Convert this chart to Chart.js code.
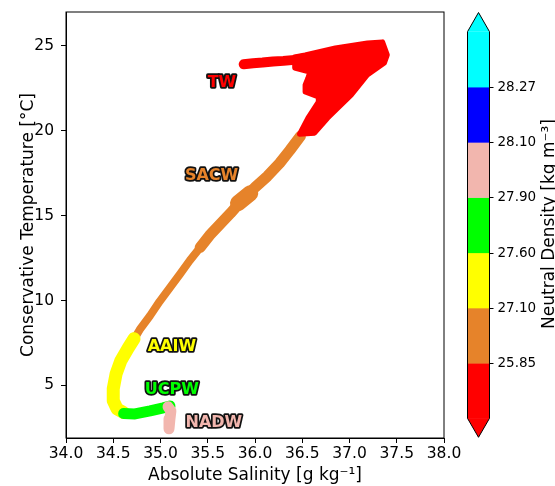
<!DOCTYPE html>
<html>
<head>
  <meta charset="UTF-8">
  <title>T-S diagram</title>
  <script src="https://cdn.jsdelivr.net/npm/chart.js"></script>
  <style>
    body { margin: 0; background: #fff; }
    canvas { display: block; }
  </style>
</head>
<body>
  <canvas id="chart" width="555" height="486"></canvas>

  <script>
    // water mass colours (same as colorbar classes)
    const cRed = '#ff0000';
    const cOrange = '#e6832a';
    const cYellow = '#ffff00';
    const cGreen = '#00ff00';
    const cPink = '#f2b6ae';
    const cBlue = '#0000ff';
    const cCyan = '#00ffff';

    // TW (red) - upper wedge outline and the low-salinity trail
    const twWedgeS = [36.42, 36.53, 36.85, 37.19, 37.35, 37.40, 37.37, 37.19, 37.02, 36.77, 36.63, 36.47, 36.56, 36.67, 36.67, 36.53, 36.53, 36.56, 36.58, 36.42];
    const twWedgeT = [24.35, 24.47, 24.88, 25.18, 25.24, 24.47, 24.00, 23.29, 22.11, 20.75, 19.86, 19.80, 20.76, 21.70, 21.99, 22.29, 22.70, 23.11, 23.46, 23.70];
    const twTrailS = [35.88, 35.98, 36.08, 36.19, 36.30, 36.42, 36.53];
    const twTrailT = [23.92, 23.98, 24.02, 24.08, 24.12, 24.18, 24.28];

    // SACW (orange)
    const sacwLowS = [34.72, 34.78, 34.89, 34.99, 35.10, 35.21, 35.31, 35.42];
    const sacwLowT = [7.72, 8.28, 9.11, 9.94, 10.76, 11.59, 12.36, 13.13];
    const sacwUpS = [35.42, 35.52, 35.63, 35.74, 35.87, 36.00, 36.13, 36.26, 36.37, 36.48];
    const sacwUpT = [13.13, 13.84, 14.49, 15.14, 15.96, 16.67, 17.32, 18.09, 18.86, 19.68];
    const sacwBulgeS = [35.82, 35.95];
    const sacwBulgeT = [15.73, 16.32];

    // AAIW (yellow)
    const aaiwS = [34.72, 34.66, 34.58, 34.53, 34.50, 34.50, 34.54, 34.61];
    const aaiwT = [7.75, 7.22, 6.45, 5.68, 4.80, 4.09, 3.62, 3.40];

    // UCPW (green)
    const ucpwS = [34.61, 34.73, 34.89, 35.03, 35.10];
    const ucpwT = [3.34, 3.32, 3.50, 3.68, 3.79];

    // NADW (pink)
    const nadwS = [35.08, 35.11, 35.10, 35.09];
    const nadwT = [3.74, 3.50, 3.03, 2.44];

    // water mass labels
    const labelNames = ['TW', 'SACW', 'AAIW', 'UCPW', 'NADW'];
    const labelS = [35.65, 35.54, 35.12, 35.12, 35.565];
    const labelT = [22.81, 17.32, 7.28, 4.74, 2.79];
    const labelColors = [cRed, cOrange, cYellow, cGreen, cPink];

    // axis ticks
    const salTicks = [34.0, 34.5, 35.0, 35.5, 36.0, 36.5, 37.0, 37.5, 38.0];
    const tempTicks = [5, 10, 15, 20, 25];

    // colorbar (bottom to top)
    const densityBounds = ['25.85', '27.10', '27.60', '27.90', '28.10', '28.27'];
    const colorbarColors = [cRed, cOrange, cYellow, cGreen, cPink, cBlue, cCyan];

    const pts = (S, T) => S.map((s, i) => ({ x: s, y: T[i] }));

    function band(S, T, color, width, order) {
      return {
        data: pts(S, T), showLine: true, pointRadius: 0,
        borderColor: color, borderWidth: width,
        borderCapStyle: 'round', borderJoinStyle: 'round',
        fill: false, order: order
      };
    }

    const datasets = [
      band(nadwS, nadwT, cPink, 11, 0),
      band(ucpwS, ucpwT, cGreen, 11, 1),
      band(aaiwS, aaiwT, cYellow, 13, 2),
      Object.assign(band(twWedgeS.concat([twWedgeS[0]]), twWedgeT.concat([twWedgeT[0]]), cRed, 5, 3),
        { fill: 'shape', backgroundColor: cRed }),
      band(twTrailS, twTrailT, cRed, 10, 3),
      band(sacwLowS, sacwLowT, cOrange, 8, 4),
      band(sacwUpS, sacwUpT, cOrange, 11, 4),
      band(sacwBulgeS, sacwBulgeT, cOrange, 16, 4)
    ];

    const font = '"DejaVu Sans", sans-serif';

    const extras = {
      id: 'extras',
      afterDatasetsDraw(chart) {
        const ctx = chart.ctx, a = chart.chartArea;
        const xs = chart.scales.x, ys = chart.scales.y;
        ctx.save();
        // frame
        ctx.strokeStyle = '#000';
        ctx.lineWidth = 1;
        ctx.strokeRect(a.left, a.top, a.right - a.left, a.bottom - a.top);
        // outlined labels
        ctx.font = 'bold 16px ' + font;
        ctx.textAlign = 'center';
        ctx.textBaseline = 'middle';
        ctx.lineJoin = 'round';
        labelNames.forEach((name, i) => {
          const px = xs.getPixelForValue(labelS[i]);
          const py = ys.getPixelForValue(labelT[i]);
          ctx.lineWidth = 3.5;
          ctx.strokeStyle = '#111';
          ctx.strokeText(name, px, py);
          ctx.fillStyle = labelColors[i];
          ctx.fillText(name, px, py);
        });
        ctx.restore();
      },
      afterDraw(chart) {
        // colorbar with extend triangles
        const ctx = chart.ctx;
        const left = 467.5, right = 489.5, mid = (left + right) / 2;
        const tipTop = 12.5, top = 31.7, bottom = 418.3, tipBot = 437.3;
        const n = colorbarColors.length;
        const h = (bottom - top) / n;
        ctx.save();
        colorbarColors.forEach((c, i) => {
          const y0 = bottom - (i + 1) * h;
          ctx.fillStyle = c;
          ctx.fillRect(left, y0, right - left, h + 0.5);
        });
        ctx.fillStyle = colorbarColors[0];
        ctx.beginPath();
        ctx.moveTo(left, bottom); ctx.lineTo(right, bottom); ctx.lineTo(mid, tipBot); ctx.closePath();
        ctx.fill();
        ctx.fillStyle = colorbarColors[n - 1];
        ctx.beginPath();
        ctx.moveTo(left, top); ctx.lineTo(right, top); ctx.lineTo(mid, tipTop); ctx.closePath();
        ctx.fill();
        // outline
        ctx.strokeStyle = '#000';
        ctx.lineWidth = 1;
        ctx.beginPath();
        ctx.moveTo(mid, tipTop); ctx.lineTo(right, top); ctx.lineTo(right, bottom);
        ctx.lineTo(mid, tipBot); ctx.lineTo(left, bottom); ctx.lineTo(left, top);
        ctx.closePath();
        ctx.stroke();
        // ticks and labels
        ctx.font = '13.5px ' + font;
        ctx.fillStyle = '#000';
        ctx.textAlign = 'left';
        ctx.textBaseline = 'middle';
        densityBounds.forEach((lab, i) => {
          const y = Math.round(bottom - (i + 1) * h) + 0.5;
          ctx.beginPath();
          ctx.moveTo(right, y); ctx.lineTo(right + 4, y);
          ctx.stroke();
          ctx.fillText(lab, right + 8, y);
        });
        // colorbar title (runs off the right edge like the original)
        ctx.translate(554, 224);
        ctx.rotate(-Math.PI / 2);
        ctx.textAlign = 'center';
        ctx.textBaseline = 'alphabetic';
        ctx.font = '17px ' + font;
        ctx.fillText('Neutral Density [kg m\u207B\u00B3]', 0, 0);
        ctx.restore();
      }
    };

    new Chart(document.getElementById('chart'), {
      type: 'scatter',
      data: { datasets: datasets },
      options: {
        responsive: false,
        animation: false,
        layout: { padding: { top: 12, right: 111, left: 0, bottom: 0 } },
        plugins: { legend: { display: false }, tooltip: { enabled: false } },
        elements: { line: { tension: 0 } },
        scales: {
          x: {
            type: 'linear', min: 34, max: 38,
            afterFit: s => { s.height = 48; s.paddingLeft = 0; s.paddingRight = 0; },
            afterBuildTicks: s => { s.ticks = salTicks.map(v => ({ value: v })); },
            ticks: { callback: v => v.toFixed(1), color: '#000', font: { size: 15.5, family: font }, padding: 2, maxRotation: 0 },
            grid: { drawOnChartArea: false, drawTicks: true, tickLength: 5, color: '#000' },
            border: { display: true, color: '#000' },
            title: { display: true, text: 'Absolute Salinity [g kg\u207B\u00B9]', color: '#000', font: { size: 17, family: font }, padding: { top: 0, bottom: 0 } }
          },
          y: {
            type: 'linear', min: 1.9, max: 27,
            afterFit: s => { s.width = 66; s.paddingTop = 0; s.paddingBottom = 0; },
            afterBuildTicks: s => { s.ticks = tempTicks.map(v => ({ value: v })); },
            ticks: { color: '#000', font: { size: 15.5, family: font }, padding: 7 },
            grid: { drawOnChartArea: false, drawTicks: true, tickLength: 5, color: '#000' },
            border: { display: true, color: '#000' },
            title: { display: true, text: 'Conservative Temperature [\u00B0C]', color: '#000', font: { size: 17, family: font }, padding: { top: 18, bottom: 0 } }
          }
        }
      },
      plugins: [extras]
    });
  </script>
</body>
</html>
